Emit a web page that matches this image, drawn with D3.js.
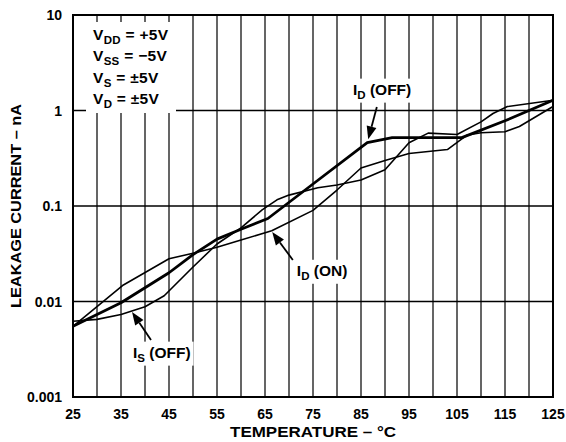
<!DOCTYPE html>
<html>
<head>
<meta charset="utf-8">
<script src="https://cdn.jsdelivr.net/npm/d3@7"></script>
<style>
  body { margin: 0; background: #fff; }
  text { font-family: "Liberation Sans", Arial, Helvetica, sans-serif; font-weight: bold; fill: #000; }
</style>
</head>
<body>
<div id="chart"></div>
<script>
// leakage current vs temperature
const idOff = [[25, 0.0055], [35, 0.0097], [45, 0.020], [50, 0.031], [55, 0.045], [60, 0.057],
  [65.6, 0.074], [75, 0.17], [86.3, 0.46], [91.5, 0.52], [106, 0.52], [115, 0.78], [125, 1.28]];
const idOn = [[25, 0.0055], [35.5, 0.0149], [45, 0.028], [50, 0.032], [55, 0.037], [60, 0.044],
  [66.4, 0.055], [75, 0.09], [80, 0.147], [85, 0.25], [90, 0.30], [95, 0.355], [103, 0.39],
  [107, 0.55], [110, 0.585], [115, 0.60], [118, 0.68], [125, 1.1]];
const isOff = [[25, 0.0062], [30, 0.0065], [35, 0.0073], [40, 0.0088], [44, 0.0115], [50, 0.023],
  [55, 0.04], [60, 0.059], [64.4, 0.091], [67.5, 0.116], [70, 0.13], [76, 0.155], [80, 0.166],
  [85, 0.187], [90, 0.24], [95, 0.46], [99, 0.58], [105, 0.56], [110, 0.76], [112.5, 0.93],
  [115.5, 1.1], [125, 1.28]];

const xTicks = [25, 35, 45, 55, 65, 75, 85, 95, 105, 115, 125];
const xGrid = d3.range(25, 126, 5);
const yTicks = [0.001, 0.01, 0.1, 1, 10];
const yTickLabels = ["0.001", "0.01", "0.1", "1", "10"];
const conditions = [["V", "DD", " = +5V"], ["V", "SS", " = \u22125V"], ["V", "S", " = \u00b15V"], ["V", "D", " = \u00b15V"]];

// annotations: label centre, arrow tail, arrow tip (data units)
const notes = [
  { main: "I", sub: "D", rest: " (OFF)", at: [89.4, 1.64], tail: [88.3, 1.09], tip: [86.5, 0.50] },
  { main: "I", sub: "D", rest: " (ON)", at: [76.9, 0.0208], tail: [70.8, 0.0272], tip: [66.5, 0.0535] },
  { main: "I", sub: "S", rest: " (OFF)", at: [43.5, 0.00289], tail: [41.25, 0.00395], tip: [37.3, 0.00776] }
];

const width = 566, height = 442;
const margin = { left: 73, right: 13, top: 15, bottom: 45 };

const svg = d3.select("#chart").append("svg")
  .attr("width", width)
  .attr("height", height);

const x = d3.scaleLinear().domain([25, 125]).range([margin.left, width - margin.right]);
const y = d3.scaleLog().domain([0.001, 10]).range([height - margin.bottom, margin.top]);

// grid
svg.append("g").selectAll("line").data(xGrid).join("line")
  .attr("x1", d => x(d)).attr("x2", d => x(d))
  .attr("y1", y(10)).attr("y2", y(0.001))
  .attr("stroke", "#4a4a4a").attr("stroke-width", 1.7);

svg.append("g").selectAll("line").data(yTicks).join("line")
  .attr("x1", x(25)).attr("x2", x(125))
  .attr("y1", d => y(d)).attr("y2", d => y(d))
  .attr("stroke", "#000").attr("stroke-width", 1.3);

// white box behind the supply conditions
svg.append("rect")
  .attr("x", x(25) + 13).attr("y", y(10) + 7)
  .attr("width", 90).attr("height", 91)
  .attr("fill", "#fff");

const line = d3.line().x(d => x(d[0])).y(d => y(d[1]));

// label backgrounds go under the curves
const noteG = svg.append("g");

svg.append("path").datum(isOff).attr("d", line)
  .attr("fill", "none").attr("stroke", "#000").attr("stroke-width", 1.6).attr("stroke-linejoin", "round");
svg.append("path").datum(idOn).attr("d", line)
  .attr("fill", "none").attr("stroke", "#000").attr("stroke-width", 1.6).attr("stroke-linejoin", "round");
svg.append("path").datum(idOff).attr("d", line)
  .attr("fill", "none").attr("stroke", "#000").attr("stroke-width", 2.8).attr("stroke-linejoin", "round");

// frame
svg.append("rect")
  .attr("x", x(25)).attr("y", y(10))
  .attr("width", x(125) - x(25)).attr("height", y(0.001) - y(10))
  .attr("fill", "none").attr("stroke", "#000").attr("stroke-width", 2);

// tick labels
svg.append("g").selectAll("text").data(yTicks).join("text")
  .attr("x", x(25) - 11).attr("y", d => y(d)).attr("dy", "0.36em")
  .attr("text-anchor", "end").attr("font-size", 14)
  .text((d, i) => yTickLabels[i]);

svg.append("g").selectAll("text").data(xTicks).join("text")
  .attr("x", d => x(d)).attr("y", y(0.001) + 22)
  .attr("text-anchor", "middle").attr("font-size", 14)
  .text(d => d);

// axis titles
svg.append("text")
  .attr("x", (x(25) + x(125)) / 2).attr("y", height - 5)
  .attr("text-anchor", "middle").attr("font-size", 14)
  .attr("textLength", 166).attr("lengthAdjust", "spacingAndGlyphs")
  .text("TEMPERATURE \u2013 \u00b0C");

svg.append("text")
  .attr("transform", `translate(21,${(y(10) + y(0.001)) / 2}) rotate(-90)`)
  .attr("text-anchor", "middle").attr("font-size", 14)
  .attr("textLength", 204).attr("lengthAdjust", "spacingAndGlyphs")
  .text("LEAKAGE CURRENT \u2013 nA");

// conditions text
conditions.forEach((c, i) => {
  const t = svg.append("text")
    .attr("x", x(25) + 20).attr("y", y(10) + 25 + i * 21.3)
    .attr("font-size", 15.5).attr("letter-spacing", 0.3);
  t.append("tspan").text(c[0]);
  t.append("tspan").attr("dy", 4).attr("font-size", 11.5).text(c[1]);
  t.append("tspan").attr("dy", -4).text(c[2]);
});

// annotations
notes.forEach(n => {
  const t = svg.append("text")
    .attr("x", x(n.at[0])).attr("y", y(n.at[1])).attr("dy", "0.3em")
    .attr("text-anchor", "middle").attr("font-size", 15.5);
  t.append("tspan").text(n.main);
  t.append("tspan").attr("dy", 4).attr("font-size", 11.5).text(n.sub);
  t.append("tspan").attr("dy", -4).text(n.rest);
  const bb = t.node().getBBox();
  noteG.append("rect")
    .attr("x", bb.x - 3).attr("y", bb.y - 2)
    .attr("width", bb.width + 6).attr("height", bb.height + 4)
    .attr("fill", "#fff");

  const x0 = x(n.tail[0]), y0 = y(n.tail[1]);
  const x1 = x(n.tip[0]), y1 = y(n.tip[1]);
  const a = Math.atan2(y1 - y0, x1 - x0);
  const len = 13, half = 5;
  const bx = x1 - len * Math.cos(a), by = y1 - len * Math.sin(a);
  svg.append("line")
    .attr("x1", x0).attr("y1", y0).attr("x2", bx).attr("y2", by)
    .attr("stroke", "#000").attr("stroke-width", 1.8);
  svg.append("polygon")
    .attr("points", [
      [x1, y1],
      [bx + half * Math.sin(a), by - half * Math.cos(a)],
      [bx - half * Math.sin(a), by + half * Math.cos(a)]
    ].map(p => p.join(",")).join(" "))
    .attr("fill", "#000");
});
</script>
</body>
</html>
